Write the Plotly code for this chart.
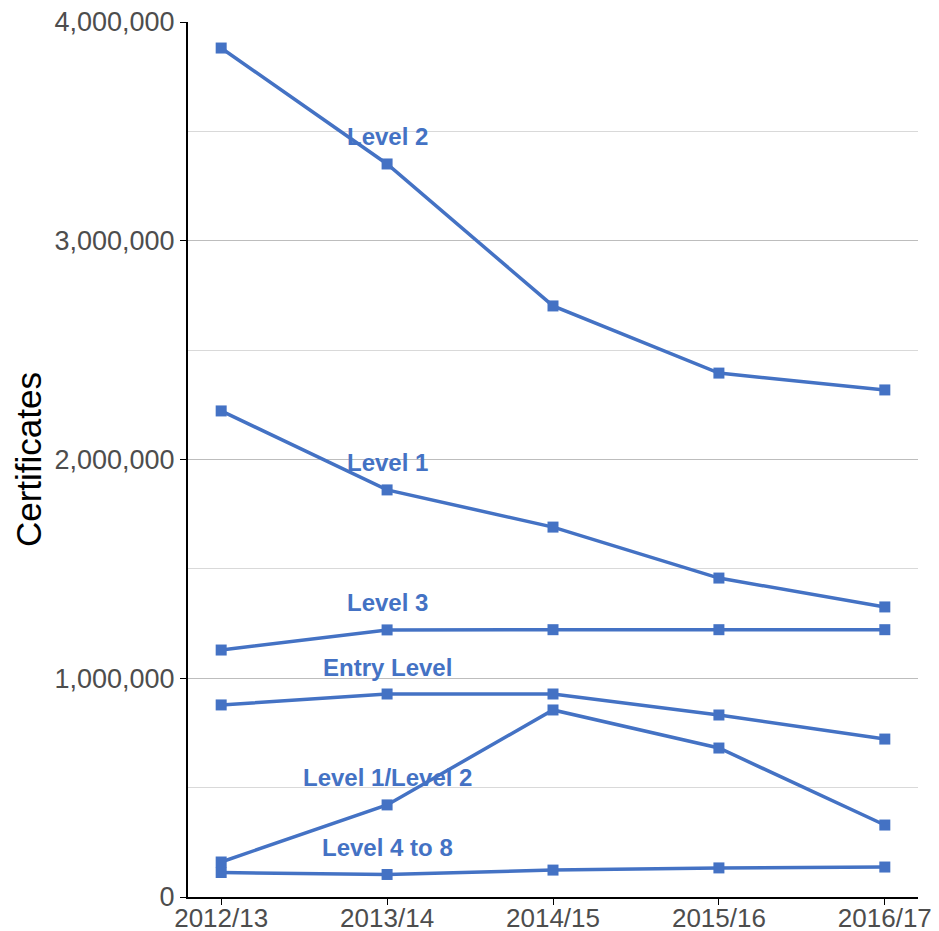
import plotly.graph_objects as go

years = ["2012/13", "2013/14", "2014/15", "2015/16", "2016/17"]
level_2 = [3881000, 3351000, 2702000, 2395000, 2318000]
level_1 = [2222000, 1861000, 1691000, 1458000, 1326000]
level_3 = [1129000, 1221000, 1222000, 1222000, 1222000]
entry_level = [878000, 928000, 928000, 832000, 722000]
level_1_2 = [160000, 421000, 855000, 681000, 329000]
level_4_8 = [112000, 103000, 123000, 133000, 137000]

series = [
    ("Level 2", level_2),
    ("Level 1", level_1),
    ("Level 3", level_3),
    ("Entry Level", entry_level),
    ("Level 1/Level 2", level_1_2),
    ("Level 4 to 8", level_4_8),
]

color = "#4472C4"
fig = go.Figure()
for name, vals in series:
    fig.add_trace(go.Scatter(
        x=years, y=vals, mode="lines+markers", name=name,
        line=dict(color=color, width=3.5),
        marker=dict(symbol="square", size=11, color=color),
        showlegend=False,
    ))
    fig.add_annotation(
        x=years[1], y=vals[1], text="<b>%s</b>" % name, showarrow=False,
        yshift=27, font=dict(family="Liberation Sans, Arial", size=24, color=color),
    )

fig.update_layout(
    width=931, height=923,
    margin=dict(l=180, r=21, t=14, b=34),
    plot_bgcolor="white", paper_bgcolor="white",
    font=dict(family="Liberation Sans, Arial", size=26, color="#4d4d4d"),
    xaxis=dict(
        type="category", range=[-0.2, 4.2], automargin=False,
        showline=True, linecolor="black", linewidth=2,
        ticks="outside", ticklen=6, tickcolor="black",
        ticklabelstandoff=-9, ticklabeloverflow="allow",
        showgrid=False, tickfont=dict(size=26, color="#4d4d4d"),
    ),
    yaxis=dict(
        range=[0, 4000000], dtick=1000000, tickformat=",d", automargin=False,
        showline=True, linecolor="black", linewidth=2,
        ticks="outside", ticklen=6, tickcolor="black",
        ticklabeloverflow="allow",
        showgrid=True, gridcolor="#bdbdbd", gridwidth=1,
        zeroline=False,
        minor=dict(dtick=500000, showgrid=True, gridcolor="#d9d9d9", gridwidth=1),
        title=dict(text="Certificates", font=dict(size=35, color="black"), standoff=2),
        tickfont=dict(size=27, color="#4d4d4d"),
    ),
)

fig.write_html("out.html")
